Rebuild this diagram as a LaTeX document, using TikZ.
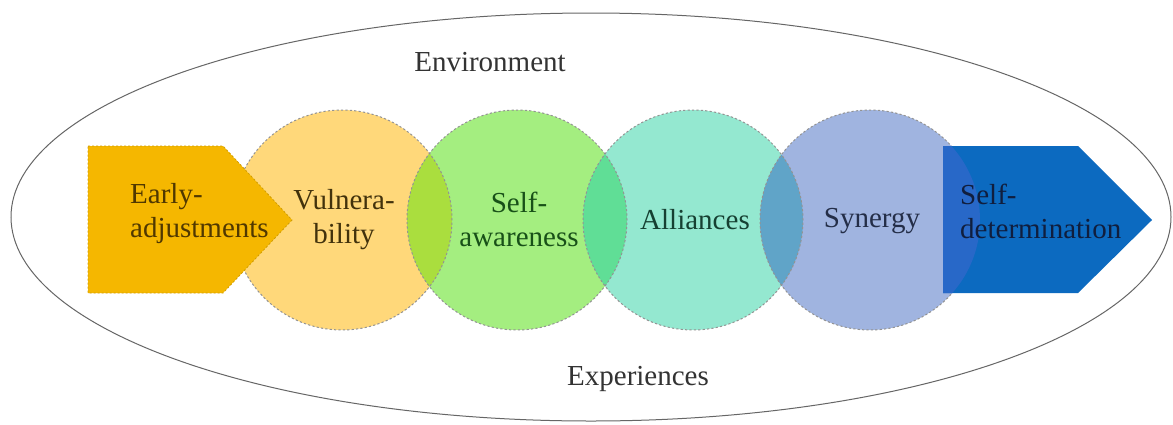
\documentclass[tikz,border=0pt]{standalone}
\usepackage{fontspec}
\setmainfont{Liberation Serif}
\newfontfamily\tnr{Liberation Serif}
\usetikzlibrary{shapes.geometric}
\definecolor{cea}{RGB}{245,183,0}
\definecolor{cvul}{RGB}{255,216,122}
\definecolor{csaw}{RGB}{164,238,128}
\definecolor{call}{RGB}{148,232,208}
\definecolor{csyn}{RGB}{160,180,224}
\definecolor{csd}{RGB}{12,106,192}
\definecolor{lva}{RGB}{170,222,62}
\definecolor{lsa}{RGB}{96,222,150}
\definecolor{las}{RGB}{96,164,200}
\definecolor{lsd}{RGB}{40,104,200}
\definecolor{tea}{RGB}{80,56,0}
\definecolor{tvu}{RGB}{66,50,12}
\definecolor{tsa}{RGB}{24,80,24}
\definecolor{tal}{RGB}{22,64,50}
\definecolor{tsy}{RGB}{36,46,72}
\definecolor{tsd}{RGB}{16,30,62}
\begin{document}
\begin{tikzpicture}[x=1pt,y=-1pt,
  circ/.style={circle, minimum size=220pt, inner sep=0pt},
  bord/.style={draw=gray!85, line width=1pt, dash pattern=on 2.2pt off 2.2pt},
  lbl/.style={font=\tnr\fontsize{29}{34}\selectfont, inner sep=0pt}]
\useasboundingbox (0,0) rectangle (1173,424);
\fill[white] (0,0) rectangle (1173,424);
% outer ellipse
\node[draw=gray!80!black, line width=1pt, ellipse, minimum width=1160pt, minimum height=408pt, inner sep=0pt] (env) at (591,217) {};
% circles
\node[circ, fill=cvul] (vul) at (342,220) {};
\node[circ, fill=csaw] (saw) at (517,220) {};
\node[circ, fill=call] (all) at (693,220) {};
\node[circ, fill=csyn] (syn) at (870,220) {};
% lenses
\begin{scope}
  \clip (vul.center) circle[radius=110pt];
  \fill[lva] (saw.center) circle[radius=110pt];
\end{scope}
\begin{scope}
  \clip (saw.center) circle[radius=110pt];
  \fill[lsa] (all.center) circle[radius=110pt];
\end{scope}
\begin{scope}
  \clip (all.center) circle[radius=110pt];
  \fill[las] (syn.center) circle[radius=110pt];
\end{scope}
% circle borders
\foreach \c in {vul,saw,all,syn}{
  \draw[bord] (\c.center) circle[radius=110pt];
}
% early adjustments pentagon
\fill[cea] (88,146) -- (223,146) -- (292,220) -- (223,293) -- (88,293) -- cycle;
\draw[draw=cea!85!black, line width=0.8pt, dash pattern=on 2pt off 2pt] (88,146) -- (223,146) -- (292,220) -- (223,293) -- (88,293) -- cycle;
% self-determination arrow
\fill[csd] (943,146) -- (1078,146) -- (1152,220) -- (1078,293) -- (943,293) -- cycle;
\begin{scope}
  \clip (943,146) -- (1078,146) -- (1152,220) -- (1078,293) -- (943,293) -- cycle;
  \fill[lsd] (syn.center) circle[radius=110pt];
\end{scope}
% texts
\node[lbl, text=black!80] (tenv) at (490,62) {Environment};
\node[lbl, text=black!80] (texp) at (638,379) {Experiences};
\node[lbl, text=tea, align=left, anchor=west] (tea) at (130,214) {Early-\\adjustments};
\node[lbl, text=tvu, align=center] (tvul) at (344,220) {Vulnera-\\bility};
\node[lbl, text=tsa, align=center] (tsaw) at (519,219) {Self-\\awareness};
\node[lbl, text=tal] (tall) at (695,220) {Alliances};
\node[lbl, text=tsy] (tsyn) at (872,221) {Synergy};
\node[lbl, text=tsd, align=left, anchor=west] (tsd) at (960,211) {Self-\\determination};
\end{tikzpicture}
\end{document}
